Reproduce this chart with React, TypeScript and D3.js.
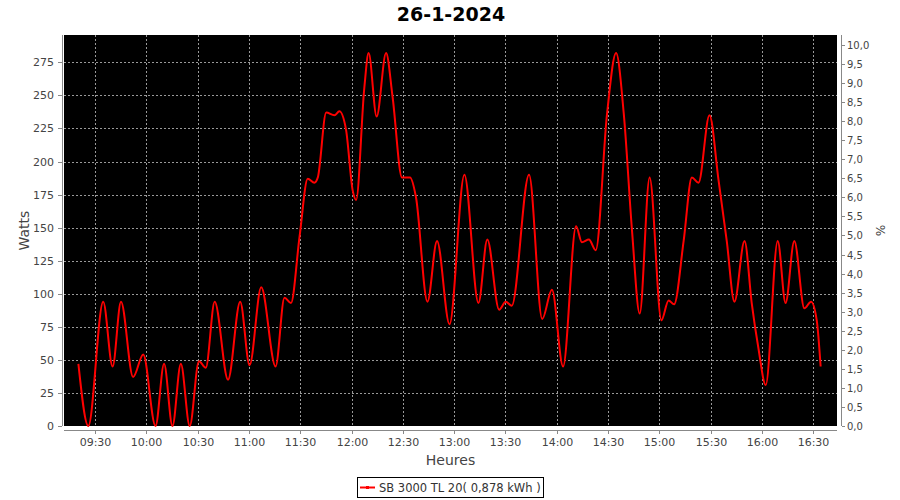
import React from "react";
import * as d3 from "d3";

const TITLE = "26-1-2024";
const times: string[] = [
  "09:20:18","09:26:06","09:34:48","09:40:18","09:45:12","09:52:18","09:58:12","10:05:24","10:10:24","10:15:18",
  "10:20:12","10:25:24","10:30:48","10:34:48","10:40:00","10:47:48","10:54:54","11:00:24","11:07:12","11:15:36",
  "11:20:48","11:24:36","11:29:36","11:34:24","11:38:18","11:40:18","11:45:12","11:50:00","11:52:54","11:56:48",
  "12:00:42","12:02:42","12:07:30","12:10:00","12:14:42","12:20:12","12:24:00","12:29:30","12:34:12","12:37:42",
  "12:44:24","12:50:00","12:57:18","13:06:00","13:14:12","13:19:24","13:26:18","13:30:12","13:33:42","13:43:48",
  "13:51:30","13:57:12","14:03:42","14:11:18","14:14:42","14:18:48","14:22:48","14:29:24","14:34:42","14:39:12",
  "14:44:00","14:48:30","14:54:18","15:01:12","15:05:24","15:08:36","15:14:12","15:19:00","15:22:54","15:29:18",
  "15:34:36","15:39:24","15:43:54","15:49:48","15:54:00","15:57:54","16:02:12","16:09:12","16:13:48","16:18:54",
  "16:24:48","16:28:42","16:32:00","16:34:18",
];
const watts: number[] = [
  47, 0, 94, 45, 94, 37, 54, 0, 47, 0,
  47, 0, 49, 44, 94, 35, 94, 46, 105, 45,
  97, 93, 143, 187, 184, 188, 237, 235, 238, 224,
  178, 171, 256, 282, 234, 282, 249, 188, 188, 173,
  94, 140, 77, 190, 93, 141, 88, 94, 91, 190,
  81, 103, 45, 151, 139, 141, 133, 236, 282, 236,
  148, 85, 188, 80, 95, 92, 140, 188, 184, 235,
  186, 140, 94, 140, 93, 59, 31, 140, 93, 140,
  89, 94, 80, 45,
];
const xTickLabels: string[] = ["09:30","10:00","10:30","11:00","11:30","12:00","12:30","13:00","13:30","14:00","14:30","15:00","15:30","16:00","16:30"];
const leftTicks: number[] = [0, 25, 50, 75, 100, 125, 150, 175, 200, 225, 250, 275];
const rightTicks: number[] = [0, 0.5, 1, 1.5, 2, 2.5, 3, 3.5, 4, 4.5, 5, 5.5, 6, 6.5, 7, 7.5, 8, 8.5, 9, 9.5, 10];
const SERIES_NAME = "SB 3000 TL 20( 0,878 kWh )";
const X_LABEL = "Heures";
const Y_LABEL = "Watts";
const Y2_LABEL = "%";

const parse = d3.timeParse("%H:%M:%S");
const parseHM = d3.timeParse("%H:%M");

export default function App() {
  const W = 900, H = 500;
  const L = 64, R = 837, T = 35, B = 426;
  const x = d3.scaleTime().domain([parse("09:11:53")!, parse("16:43:52")!]).range([L, R]);
  const y = d3.scaleLinear().domain([0, 295.7]).range([B, T]);
  const y2 = d3.scaleLinear().domain([0, 10.26]).range([B, T]);
  const data = times.map((t, i) => ({ t: parse(t)!, v: watts[i] }));
  const line = d3.line<{ t: Date; v: number }>()
    .x(d => x(d.t))
    .y(d => y(d.v))
    .curve(d3.curveMonotoneX);
  const font = "DejaVu Sans, Verdana, sans-serif";
  const fmt2 = (v: number) => d3.format(".1f")(v).replace(".", ",");
  const tickColor = "#444";
  const axisColor = "#888";

  return (
    <div style={{ position: "absolute", left: 0, top: 0 }}>
      <svg width={W} height={H} style={{ display: "block", background: "#fff" }} fontFamily={font}>
        <text x={451} y={21} textAnchor="middle" fontSize={19} fontWeight="bold" fill="#000">{TITLE}</text>
        <rect x={L} y={T} width={R - L} height={B - T} fill="#000" />
        <g stroke="#999" strokeWidth={1} strokeDasharray="2,2">
          {xTickLabels.map(l => {
            const px = Math.round(x(parseHM(l)!)) + 0.5;
            return <line key={"gx" + l} x1={px} x2={px} y1={T} y2={B} />;
          })}
          {leftTicks.filter(v => v > 0).map(v => {
            const py = Math.round(y(v)) + 0.5;
            return <line key={"gy" + v} x1={L} x2={R} y1={py} y2={py} />;
          })}
        </g>
        <path d={line(data) || ""} fill="none" stroke="#ff0000" strokeWidth={2} strokeLinejoin="round" />
        {/* left axis */}
        <line x1={62.5} x2={62.5} y1={T} y2={B} stroke={axisColor} />
        {leftTicks.map(v => {
          const py = Math.round(y(v)) + 0.5;
          return (
            <g key={"lt" + v}>
              <line x1={58} x2={62} y1={py} y2={py} stroke={axisColor} />
              <text x={54} y={py} dy="0.35em" textAnchor="end" fontSize={11} fill={tickColor}>{v}</text>
            </g>
          );
        })}
        <text transform={`translate(24,${(T + B) / 2}) rotate(-90)`} textAnchor="middle" dy="0.35em" fontSize={14} fill={tickColor}>{Y_LABEL}</text>
        {/* bottom axis */}
        <line x1={L} x2={R} y1={430.5} y2={430.5} stroke={axisColor} />
        {xTickLabels.map(l => {
          const px = Math.round(x(parseHM(l)!)) + 0.5;
          return (
            <g key={"bt" + l}>
              <line x1={px} x2={px} y1={430} y2={434} stroke={axisColor} />
              <text x={px} y={442} dy="0.35em" textAnchor="middle" fontSize={11} fill={tickColor}>{l}</text>
            </g>
          );
        })}
        <text x={(L + R) / 2} y={460} dy="0.35em" textAnchor="middle" fontSize={14} fill={tickColor}>{X_LABEL}</text>
        {/* right axis */}
        <line x1={841.5} x2={841.5} y1={T} y2={B} stroke={axisColor} />
        {rightTicks.map(v => {
          const py = Math.round(y2(v)) + 0.5;
          return (
            <g key={"rt" + v}>
              <line x1={842} x2={845} y1={py} y2={py} stroke={axisColor} />
              <text x={847} y={py} dy="0.35em" textAnchor="start" fontSize={10} fill={tickColor}>{fmt2(v)}</text>
            </g>
          );
        })}
        <text transform={`translate(880,${(T + B) / 2}) rotate(90)`} textAnchor="middle" dy="0.35em" fontSize={12} fill={tickColor}>{Y2_LABEL}</text>
        {/* legend */}
        <rect x={357.5} y={477.5} width={186} height={20} fill="#fff" stroke="#000" />
        <line x1={360} x2={375} y1={487.5} y2={487.5} stroke="#ff0000" strokeWidth={2} />
        <rect x={366} y={486} width={3} height={3} fill="#ff0000" />
        <text x={379} y={488} dy="0.35em" fontSize={11.5} fill="#333">{SERIES_NAME}</text>
      </svg>
    </div>
  );
}
